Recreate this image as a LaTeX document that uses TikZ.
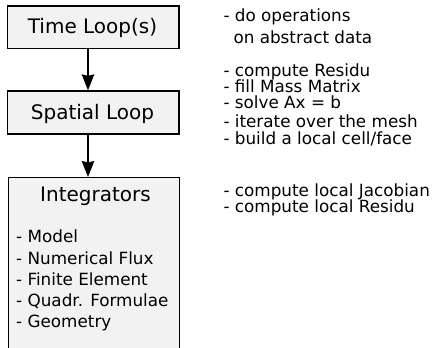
\documentclass[tikz,border=0pt]{standalone}
\usepackage{fontspec}
\setmainfont{DejaVu Sans}
\usetikzlibrary{arrows.meta}
\begin{document}
\begin{tikzpicture}[x=1pt,y=-1pt,
  box/.style={draw=black,fill=black!5,line width=1.3pt,inner sep=0pt,minimum width=171.5pt},
  title/.style={font=\fontsize{20}{24}\selectfont,inner sep=0pt},
  note/.style={font=\fontsize{16.8}{20}\selectfont,inner sep=0pt,anchor=base west},
  arr/.style={line width=1.3pt,-{Stealth[length=16pt,width=12.5pt,inset=1.5pt]}}]
\useasboundingbox (0,0) rectangle (435,347);
\clip (0,0) rectangle (435,347);
\node[box,minimum height=42.5pt] (tl) at (93.25,27.25) {};
\node[title,anchor=base] (tlt) at (92.5,33.3) {Time Loop(s)};
\node[box,minimum height=43pt] (sl) at (93.25,112.5) {};
\node[title,anchor=base] (slt) at (92.5,120) {Spatial Loop};
\node[box,minimum height=190pt,anchor=north west] (ig) at (7.5,177) {};
\node[title,anchor=base] (igt) at (95.5,201.7) {Integrators};
\node[note] (i1) at (16,242.7) {- Model};
\node[note] (i2) at (16,264) {- Numerical Flux};
\node[note] (i3) at (16,285.2) {- Finite Element};
\node[note] (i4) at (16,306.4) {- Quadr. Formulae};
\node[note] (i5) at (16,327.5) {- Geometry};
\coordinate (ax) at (88,0);
\draw[arr] (tl.south -| ax) -- (sl.north -| ax);
\draw[arr] (sl.south -| ax) -- (ig.north -| ax);
\node[note] (r1) at (223.3,21.7) {- do operations};
\node[note] (r2) at (233.3,43.3) {on abstract data};
\node[note] (r3) at (223.3,76.7) {- compute Residu};
\node[note] (r4) at (223.3,92.5) {- fill Mass Matrix};
\node[note] (r5) at (223.3,108.3) {- solve Ax = b};
\node[note] (r6) at (223.3,127.5) {- iterate over the mesh};
\node[note] (r7) at (223.3,145) {- build a local cell/face};
\node[note] (r8) at (223.3,196.2) {- compute local Jacobian};
\node[note] (r9) at (223.3,212.4) {- compute local Residu};
\end{tikzpicture}
\end{document}
